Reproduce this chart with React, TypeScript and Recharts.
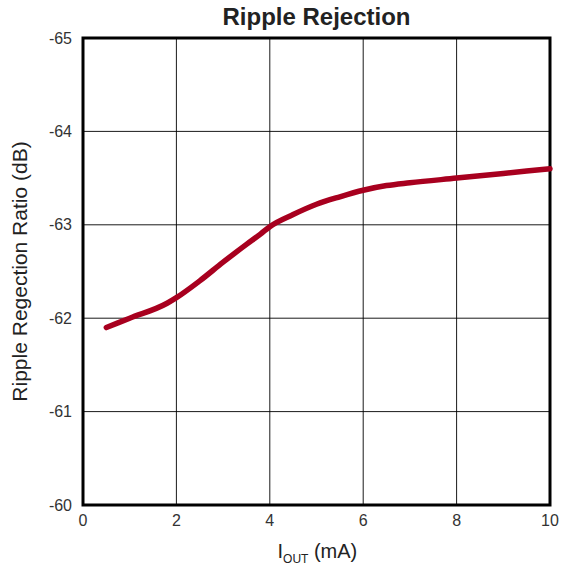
import React from 'react';
import {
  LineChart,
  Line,
  XAxis,
  YAxis,
  CartesianGrid,
  ReferenceArea,
  Label,
} from 'recharts';

// I_OUT in mA
const currentMa = [0.5, 1, 1.8, 2, 2.5, 3, 3.5, 3.8, 4, 4.5, 5, 5.5, 6, 6.5, 7, 8, 9, 10];
// ripple rejection ratio in dB
const rejectionDb = [
  -61.9, -62.0, -62.16, -62.22, -62.4, -62.6, -62.79, -62.9, -62.98, -63.11, -63.22, -63.3,
  -63.37, -63.42, -63.45, -63.5, -63.55, -63.6,
];
const xTicks = [0, 2, 4, 6, 8, 10];
const yTicks = [-65, -64, -63, -62, -61, -60];

const chartData = currentMa.map((x, i) => ({ x, y: rejectionDb[i] }));

const FONT = '"Liberation Sans", Arial, sans-serif';
const LINE_COLOR = '#A8001F';

const XAxisTitle = (props: any) => {
  const vb = props.viewBox || {};
  const cx = vb.x + vb.width / 2;
  return (
    <text x={cx - 39} y={vb.y + 53} fontFamily={FONT} fontSize={20} fill="#222">
      <tspan>I</tspan>
      <tspan fontSize={12} dy={5}>OUT</tspan>
      <tspan dy={-5}> (mA)</tspan>
    </text>
  );
};

export default function App() {
  return (
    <div style={{ position: 'absolute', left: 0, top: 0, width: 575, height: 571, background: '#fff' }}>
      <div
        style={{
          position: 'absolute',
          left: 83,
          width: 467,
          top: 3,
          textAlign: 'center',
          fontFamily: FONT,
          fontWeight: 'bold',
          fontSize: 24,
          color: '#222',
        }}
      >
        Ripple Rejection
      </div>
      <LineChart
        width={575}
        height={571}
        data={chartData}
        margin={{ top: 38, right: 25, left: 0, bottom: 0 }}
      >
        <CartesianGrid stroke="#000" strokeWidth={1} strokeOpacity={0.9} />
        <XAxis
          type="number"
          dataKey="x"
          domain={[0, 10]}
          ticks={xTicks}
          axisLine={false}
          tickLine={false}
          height={66}
          tick={{ fontFamily: FONT, fontSize: 16, fill: '#333' }}
          tickMargin={4}
        >
          <Label content={<XAxisTitle />} />
        </XAxis>
        <YAxis
          type="number"
          domain={[-65, -60]}
          ticks={yTicks}
          reversed
          width={83}
          axisLine={false}
          tickLine={false}
          tick={{ fontFamily: FONT, fontSize: 16, fill: '#333' }}
          tickMargin={5}
        >
          <Label
            value="Ripple Regection Ratio (dB)"
            angle={-90}
            position="insideLeft"
            offset={20}
            style={{ fontFamily: FONT, fontSize: 21, fill: '#222', textAnchor: 'middle' }}
          />
        </YAxis>
        <ReferenceArea x1={0} x2={10} y1={-65} y2={-60} fill="none" stroke="#000" strokeWidth={3} ifOverflow="visible" />
        <Line
          type="monotone"
          dataKey="y"
          stroke={LINE_COLOR}
          strokeWidth={5.5}
          strokeLinecap="round"
          dot={false}
          isAnimationActive={false}
        />
      </LineChart>
    </div>
  );
}
